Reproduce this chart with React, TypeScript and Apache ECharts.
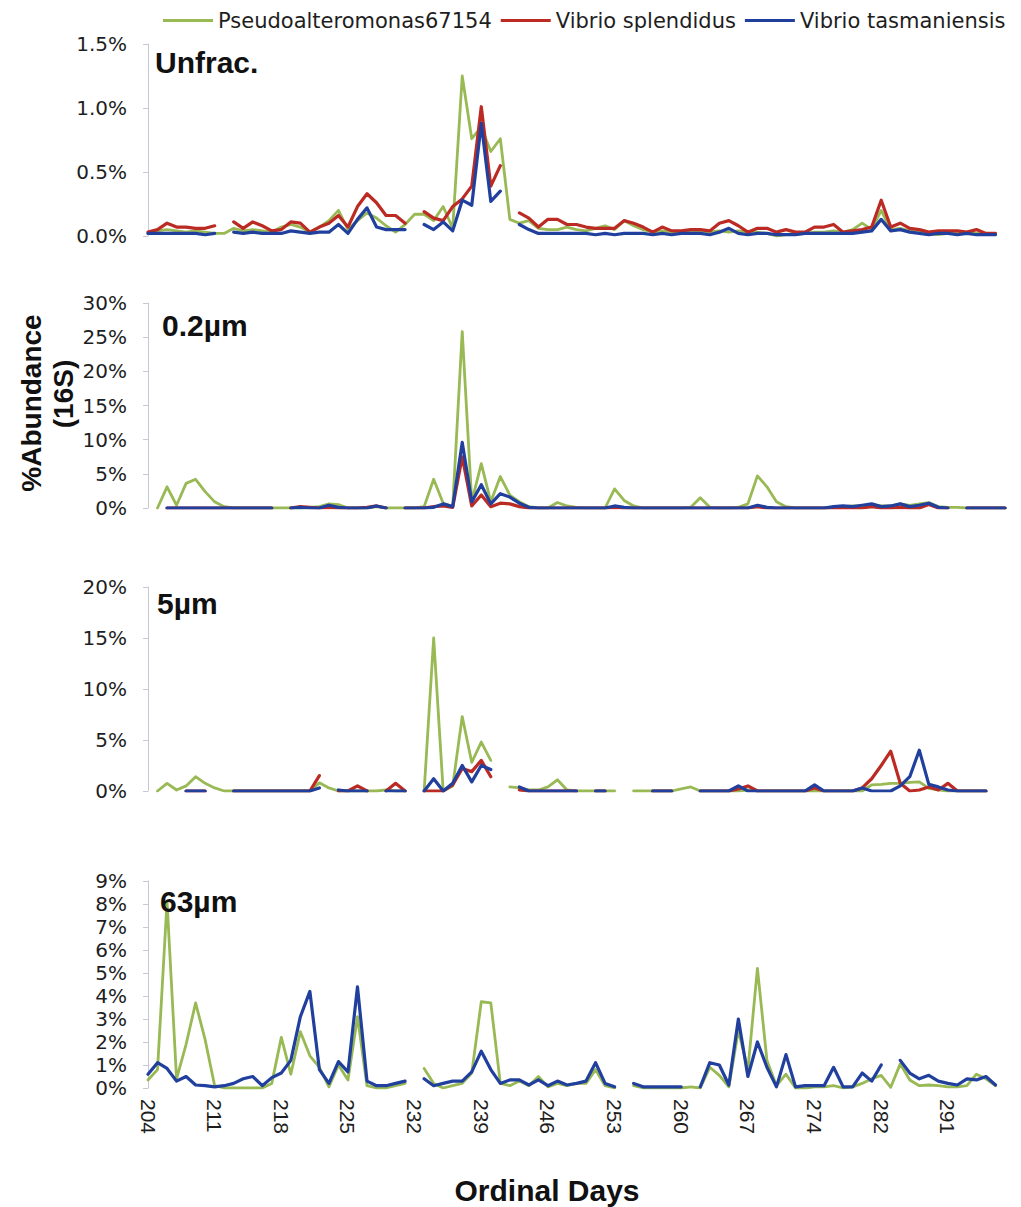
import { useEffect, useRef } from "react";
import * as echarts from "echarts";

// Sampling days on the shared category axis (one entry per sample)
const days = [
  204, 205, 206, 207, 208, 209, 210,
  211, 212, 213, 214, 215, 216, 217,
  218, 219, 220, 221, 222, 223, 224,
  225, 226, 227, 228, 229, 230, 231,
  232, 233, 234, 235, 236, 237, 238,
  239, 240, 241, 242, 243, 244, 245,
  246, 247, 248, 249, 250, 251, 252,
  253, 254, 255, 256, 257, 258, 259,
  260, 261, 262, 263, 264, 265, 266,
  267, 268, 269, 270, 271, 272, 273,
  274, 275, 276, 277, 279, 280, 281,
  282, 283, 284, 286, 287, 289, 290,
  291, 292, 293, 294, 295, 296, 297,
];

const speciesNames = ["Pseudoalteromonas67154", "Vibrio splendidus", "Vibrio tasmaniensis"];
const speciesColors = ["#98b954", "#bc2a24", "#21409e"];
const speciesWidths = [2.8, 3.2, 3.2];

// ---- Unfractionated (% abundance) ----
const unfracPseudo = [
  0.02, 0.04, 0.05, 0.04, 0.03, 0.04, 0.03, 0.02, 0.02, 0.06,
  0.04, 0.05, 0.04, 0.03, 0.07, 0.09, 0.07, 0.03, 0.07, 0.12,
  0.2, 0.05, 0.12, 0.18, 0.14, 0.08, 0.03, 0.09, 0.17, 0.17,
  0.12, 0.23, 0.06, 1.25, 0.76, 0.85, 0.66, 0.76, 0.13, 0.1,
  0.12, 0.06, 0.05, 0.05, 0.07, 0.05, 0.04, 0.06, 0.08, 0.05,
  0.12, 0.08, 0.05, 0.03, 0.04, 0.03, 0.03, 0.04, 0.04, 0.03,
  0.04, 0.03, 0.04, 0.03, 0.03, 0.02, 0, 0.01, 0.02, 0.02,
  0.03, 0.03, 0.04, 0.03, 0.05, 0.1, 0.05, 0.2, 0.05, 0.06,
  0.04, 0.03, 0.02, 0.01, 0.02, 0.02, 0.03, 0.02, 0.02, 0.02,
  null,
];
const unfracSplendidus = [
  0.03, 0.05, 0.1, 0.07, 0.07, 0.06, 0.06, 0.08, null, 0.11,
  0.06, 0.11, 0.08, 0.04, 0.05, 0.11, 0.1, 0.03, 0.07, 0.1,
  0.16, 0.07, 0.23, 0.33, 0.26, 0.16, 0.16, 0.1, null, 0.19,
  0.14, 0.12, 0.23, 0.29, 0.39, 1.01, 0.39, 0.55, null, 0.18,
  0.14, 0.07, 0.13, 0.13, 0.09, 0.09, 0.07, 0.06, 0.06, 0.06,
  0.12, 0.1, 0.07, 0.03, 0.07, 0.04, 0.04, 0.05, 0.05, 0.04,
  0.1, 0.12, 0.08, 0.03, 0.06, 0.06, 0.03, 0.05, 0.03, 0.03,
  0.07, 0.07, 0.09, 0.03, 0.04, 0.05, 0.07, 0.28, 0.07, 0.1,
  0.06, 0.05, 0.03, 0.04, 0.04, 0.04, 0.03, 0.05, 0.02, 0.02,
  null,
];
const unfracTasmaniensis = [
  0.02, 0.02, 0.02, 0.02, 0.02, 0.02, 0.01, 0.02, null, 0.03,
  0.02, 0.03, 0.02, 0.02, 0.02, 0.04, 0.03, 0.02, 0.03, 0.03,
  0.09, 0.02, 0.13, 0.22, 0.07, 0.05, 0.05, 0.05, null, 0.09,
  0.05, 0.11, 0.04, 0.28, 0.24, 0.88, 0.27, 0.35, null, 0.09,
  0.05, 0.02, 0.02, 0.02, 0.02, 0.02, 0.02, 0.01, 0.02, 0.01,
  0.02, 0.02, 0.02, 0.01, 0.02, 0.01, 0.02, 0.02, 0.02, 0.01,
  0.03, 0.06, 0.02, 0.01, 0.02, 0.02, 0.01, 0.01, 0.01, 0.02,
  0.02, 0.02, 0.02, 0.02, 0.02, 0.03, 0.04, 0.13, 0.04, 0.05,
  0.03, 0.02, 0.01, 0.02, 0.02, 0.01, 0.02, 0.01, 0.01, 0.01,
  null,
];

// ---- 0.2 µm fraction ----
const fine02Pseudo = [
  null, 0, 3.1, 0.4, 3.6, 4.2, 2.4, 0.9, 0.2, 0,
  0, 0, 0, 0, 0, 0, 0, 0.1, 0.2, 0.6,
  0.5, 0, 0, 0, 0.2, 0, 0, 0, 0, 0.2,
  4.2, 0.7, 0.2, 25.8, 0.9, 6.5, 0.9, 4.6, 1.9, 0.9,
  0.2, 0, 0, 0.8, 0.3, 0.1, 0, 0, 0, 2.8,
  1.1, 0.3, 0, 0, 0, 0, 0, 0.1, 1.5, 0.1,
  0, 0, 0.1, 0.6, 4.7, 3.1, 0.9, 0.2, 0, 0,
  0, 0, 0.1, 0.2, 0.3, 0.3, 0.5, 0.3, 0.3, 0.6,
  0.4, 0.6, 0.8, 0.2, 0.1, 0.1, 0, 0, 0, 0,
  0,
];
const fine02Splendidus = [
  null, null, 0, 0, 0, 0, 0, 0, 0, 0,
  0, 0, 0, 0, null, 0, 0.2, 0.1, 0, 0.1,
  0, 0, 0, 0.1, 0.3, 0, null, 0, 0, 0,
  0.2, 0.3, 0.1, 7.5, 0.3, 1.9, 0.2, 0.7, 0.6, 0.2,
  0, 0, 0, 0, 0, 0, 0, 0, 0, 0.1,
  0, 0, 0, 0, 0, 0, 0, 0, 0, 0,
  0, 0, 0, 0, 0.2, 0, 0, 0, 0, 0,
  0, 0, 0, 0, 0, 0, 0.2, 0, 0, 0.1,
  0, 0, 0.5, 0, 0, null, 0, 0, 0, 0,
  0,
];
const fine02Tasmaniensis = [
  null, null, 0, 0, 0, 0, 0, 0, 0, 0,
  0, 0, 0, 0, null, 0, 0.1, 0, 0, 0.4,
  0.1, 0, 0, 0, 0.3, 0, null, 0, 0, 0,
  0.1, 0.6, 0.2, 9.6, 0.9, 3.4, 0.6, 2.1, 1.6, 0.7,
  0.1, 0, 0, 0, 0, 0, 0, 0, 0, 0.3,
  0.1, 0, 0, 0, 0, 0, 0, 0, 0, 0,
  0, 0, 0, 0, 0.4, 0.1, 0, 0, 0, 0,
  0, 0, 0.2, 0.3, 0.2, 0.4, 0.6, 0.2, 0.3, 0.6,
  0.2, 0.4, 0.7, 0.1, 0, null, 0, 0, 0, 0,
  0,
];

// ---- 5 µm fraction ----
const mid5Pseudo = [
  null, 0, 0.75, 0.1, 0.5, 1.4, 0.75, 0.3, 0, 0,
  0, 0, 0, 0, 0, 0, 0, 0, 0.8, 0.3,
  0, 0, 0, 0, 0, 0.1, 0, 0, null, 0,
  15, 0, 0.5, 7.3, 2.8, 4.8, 3.0, null, 0.4, 0.3,
  0.1, 0.1, 0.4, 1.1, 0.1, 0, 0, 0, 0, 0,
  null, 0, 0, 0, 0, 0, 0.2, 0.4, 0, 0,
  0, 0, 0, 0.1, 0, 0, 0, 0, 0, 0,
  0, 0, 0, 0, 0, 0, 0.6, 0.65, 0.75, 0.75,
  0.85, 0.9, 0.25, 0.1, 0, 0, 0, 0, 0, null,
  null,
];
const mid5Splendidus = [
  null, null, null, null, 0, 0, 0, null, null, 0,
  0, 0, 0, 0, 0, 0, 0, 0, 1.5, null,
  0, 0, 0.5, 0, null, 0, 0.75, 0, null, 0,
  0, 0, 0.6, 2.2, 1.9, 3.0, 1.4, null, null, 0.1,
  0, 0, 0, 0, 0, 0, null, 0, 0, null,
  null, null, null, 0, 0, 0, null, null, 0, 0,
  0, 0, 0.2, 0.5, 0, 0, 0, 0, 0, 0,
  0.3, 0, 0, 0, 0, 0.3, 1.2, 2.5, 3.9, 0.75,
  0, 0.1, 0.4, 0.1, 0.75, 0, 0, 0, 0, null,
  null,
];
const mid5Tasmaniensis = [
  null, null, null, null, 0, 0, 0, null, null, 0,
  0, 0, 0, 0, 0, 0, 0, 0, 0.3, null,
  0.1, 0, 0, 0, null, 0, 0, 0, null, 0,
  1.2, 0, 0.75, 2.5, 0.9, 2.5, 2.1, null, null, 0.4,
  0, 0, 0, 0, 0, 0, null, 0, 0, null,
  null, null, null, 0, 0, 0, null, null, 0, 0,
  0, 0, 0.5, 0, 0, 0, 0, 0, 0, 0,
  0.6, 0, 0, 0, 0, 0.3, 0, 0, 0, 0.5,
  1.4, 4.0, 0.65, 0.4, 0.1, 0, 0, 0, 0, null,
  null,
];

// ---- 63 µm fraction ----
const large63Pseudo = [
  0.35, 0.8, 8.1, 0.4, 1.9, 3.7, 2.1, 0.1, 0, 0,
  0, 0, 0, 0.2, 2.2, 0.6, 2.45, 1.4, 0.9, 0.05,
  1.0, 0.35, 3.1, 0.1, 0, 0, 0.1, 0.2, null, 0.85,
  0.2, 0, 0.1, 0.2, 0.65, 3.75, 3.7, 0.2, 0.1, 0.3,
  0.1, 0.5, 0.05, 0.2, 0.1, 0.2, 0.2, 0.8, 0.1, 0,
  null, 0.1, 0, 0, 0, 0, 0, 0.05, 0, 0.9,
  0.55, 0.05, 2.5, 0.8, 5.2, 1.2, 0.1, 0.6, 0, 0,
  0.05, 0.05, 0.1, 0, 0.05, 0.2, 0.4, 0.55, 0.03, 1.05,
  0.35, 0.1, 0.13, 0.1, 0.05, 0.05, 0.1, 0.6, 0.4, 0.1,
  null,
];
const large63Tasmaniensis = [
  0.6, 1.1, 0.85, 0.3, 0.5, 0.13, 0.1, 0.05, 0.1, 0.2,
  0.4, 0.5, 0.1, 0.45, 0.65, 1.2, 3.1, 4.2, 0.8, 0.2,
  1.15, 0.7, 4.4, 0.3, 0.1, 0.1, 0.2, 0.3, null, 0.4,
  0.1, 0.2, 0.3, 0.3, 0.7, 1.6, 0.8, 0.2, 0.35, 0.35,
  0.13, 0.35, 0.1, 0.3, 0.13, 0.2, 0.3, 1.1, 0.2, 0.05,
  null, 0.2, 0.05, 0.05, 0.05, 0.05, 0.05, null, 0.05, 1.1,
  1.0, 0.13, 3.0, 0.5, 2.0, 0.9, 0.05, 1.45, 0.05, 0.1,
  0.1, 0.1, 0.9, 0.05, 0.05, 0.65, 0.3, 1.0, null, 1.2,
  0.65, 0.4, 0.55, 0.3, 0.2, 0.13, 0.4, 0.35, 0.5, 0.13,
  null,
];

const panelTitles = ["Unfrac.", "0.2µm", "5µm", "63µm"];
const panelMax = [1.5, 30, 20, 9];
const panelStep = [0.5, 5, 5, 1];
const panelSeries = [
  [unfracPseudo, unfracSplendidus, unfracTasmaniensis],
  [fine02Pseudo, fine02Splendidus, fine02Tasmaniensis],
  [mid5Pseudo, mid5Splendidus, mid5Tasmaniensis],
  [large63Pseudo, null, large63Tasmaniensis],
];

// Panel geometry in pixels
const gridTops = [44, 303, 587, 881];
const gridHeights = [192, 205, 204, 207];
const titleAnchors = [
  [155, 62],
  [162, 325],
  [157, 603],
  [160, 901],
];

const axisGray = "#c6c8d6";
const textColor = "#1e1e1e";

function buildOption() {
  const grid = gridTops.map((top, i) => ({ left: 148, right: 16, top, height: gridHeights[i] }));

  const xAxis = gridTops.map((_, i) => ({
    type: "category",
    gridIndex: i,
    data: days.map(String),
    boundaryGap: false,
    axisLine: { show: false },
    axisTick: { show: false },
    splitLine: { show: false },
    axisLabel:
      i === 3
        ? {
            show: true,
            interval: 6,
            rotate: -90,
            margin: 11,
            fontSize: 21,
            fontFamily: "Liberation Sans, Arial, sans-serif",
            color: textColor,
          }
        : { show: false },
  }));

  const yAxis = panelMax.map((max, i) => ({
    type: "value",
    gridIndex: i,
    min: 0,
    max,
    interval: panelStep[i],
    axisLine: { show: true, lineStyle: { color: axisGray, width: 1 } },
    axisTick: { show: true, length: 5, lineStyle: { color: axisGray } },
    splitLine: { show: false },
    axisLabel: {
      margin: 21,
      fontSize: 20,
      fontFamily: "DejaVu Sans, sans-serif",
      color: textColor,
      formatter: (v: number) => (i === 0 ? v.toFixed(1) : String(Math.round(v))) + "%",
    },
  }));

  const series: any[] = [];
  panelSeries.forEach((group, p) => {
    group.forEach((data, s) => {
      if (!data) return;
      series.push({
        type: "line",
        name: speciesNames[s],
        xAxisIndex: p,
        yAxisIndex: p,
        data,
        showSymbol: false,
        symbol: "none",
        connectNulls: false,
        z: 2 + s,
        lineStyle: { color: speciesColors[s], width: speciesWidths[s], join: "round", cap: "round" },
        itemStyle: { color: speciesColors[s] },
        emphasis: { disabled: true },
      });
    });
  });

  const titleFont = { fontSize: 30, fontWeight: "bold", fontFamily: "Liberation Sans, Arial, sans-serif", fill: "#111" };

  const graphic: any[] = panelTitles.map((t, i) => ({
    type: "text",
    x: titleAnchors[i][0],
    y: titleAnchors[i][1],
    z: 100,
    style: { text: t, ...titleFont, align: "left", verticalAlign: "middle" },
  }));
  graphic.push(
    {
      type: "text",
      x: 31,
      y: 403,
      rotation: Math.PI / 2,
      z: 100,
      style: { text: "%Abundance", ...titleFont, fontSize: 28, align: "center", verticalAlign: "middle" },
    },
    {
      type: "text",
      x: 63,
      y: 394,
      rotation: Math.PI / 2,
      z: 100,
      style: { text: "(16S)", ...titleFont, fontSize: 28, align: "center", verticalAlign: "middle" },
    },
    {
      type: "text",
      x: 547,
      y: 1190,
      z: 100,
      style: { text: "Ordinal Days", ...titleFont, align: "center", verticalAlign: "middle" },
    }
  );

  return {
    animation: false,
    backgroundColor: "#ffffff",
    legend: {
      data: speciesNames,
      top: 5,
      left: 158,
      icon: "rect",
      itemWidth: 50,
      itemHeight: 3,
      itemGap: 9,
      selectedMode: false,
      textStyle: { fontSize: 21, fontFamily: "DejaVu Sans, sans-serif", color: textColor },
    },
    grid,
    xAxis,
    yAxis,
    series,
    graphic,
  };
}

export default function App() {
  const ref = useRef<HTMLDivElement>(null);

  useEffect(() => {
    if (!ref.current) return;
    const chart = echarts.init(ref.current, undefined, { renderer: "svg" });
    chart.setOption(buildOption() as any);
    return () => chart.dispose();
  }, []);

  return (
    <div
      ref={ref}
      style={{ position: "fixed", left: 0, top: 0, width: 1021, height: 1207, background: "#fff" }}
    />
  );
}
